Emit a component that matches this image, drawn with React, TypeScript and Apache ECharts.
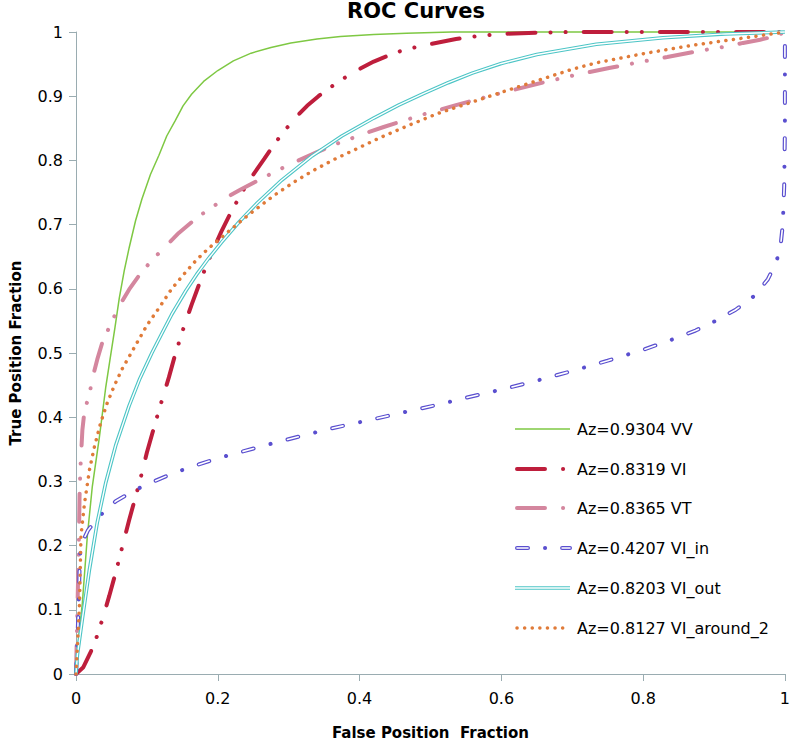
import React, { useEffect, useRef } from "react";
import * as echarts from "echarts";

// ---------- data (FPR, TPR) ----------
const vvPoints: number[][] = [
  [0, 0], [0.004, 0.06], [0.009, 0.111], [0.016, 0.215], [0.023, 0.292], [0.033, 0.369],
  [0.042, 0.447], [0.048, 0.49], [0.055, 0.54], [0.061, 0.585], [0.068, 0.628], [0.075, 0.664],
  [0.084, 0.706], [0.093, 0.74], [0.105, 0.778], [0.117, 0.808], [0.128, 0.838], [0.14, 0.862],
  [0.151, 0.885], [0.163, 0.903], [0.18, 0.923], [0.2, 0.94], [0.222, 0.955], [0.247, 0.967],
  [0.275, 0.976], [0.303, 0.983], [0.34, 0.989], [0.373, 0.993], [0.42, 0.996], [0.466, 0.998],
  [0.53, 1], [0.7, 1], [1, 1],
];
const viPoints: number[][] = [
  [0, 0], [0.01, 0.01], [0.021, 0.035], [0.03, 0.06], [0.038, 0.088], [0.047, 0.122],
  [0.056, 0.158], [0.065, 0.197], [0.075, 0.24], [0.09, 0.3], [0.1, 0.345], [0.117, 0.411],
  [0.131, 0.462], [0.14, 0.498], [0.152, 0.54], [0.163, 0.575], [0.177, 0.617], [0.19, 0.652],
  [0.205, 0.689], [0.219, 0.72], [0.232, 0.746], [0.245, 0.77], [0.266, 0.803], [0.28, 0.826],
  [0.294, 0.846], [0.31, 0.867], [0.326, 0.885], [0.342, 0.9], [0.359, 0.914], [0.378, 0.928],
  [0.396, 0.94], [0.42, 0.954], [0.44, 0.963], [0.457, 0.97], [0.478, 0.976], [0.499, 0.981],
  [0.536, 0.989], [0.57, 0.994], [0.6, 0.997], [0.65, 0.999], [0.7, 1], [1, 1],
];
const vtPoints: number[][] = [
  [0, 0], [0.002, 0.1], [0.004, 0.2], [0.005, 0.277], [0.006, 0.313], [0.007, 0.338],
  [0.009, 0.38], [0.012, 0.41], [0.019, 0.436], [0.023, 0.46], [0.03, 0.49], [0.037, 0.516],
  [0.051, 0.55], [0.061, 0.573], [0.075, 0.599], [0.093, 0.627], [0.112, 0.65], [0.128, 0.668],
  [0.145, 0.687], [0.172, 0.712], [0.193, 0.728], [0.212, 0.742], [0.233, 0.755], [0.266, 0.774],
  [0.289, 0.787], [0.31, 0.798], [0.34, 0.813], [0.368, 0.826], [0.41, 0.843], [0.434, 0.852],
  [0.471, 0.865], [0.494, 0.873], [0.536, 0.886], [0.559, 0.893], [0.6, 0.905], [0.65, 0.919],
  [0.7, 0.932], [0.752, 0.944], [0.79, 0.952], [0.834, 0.961], [0.876, 0.97], [0.92, 0.978],
  [0.941, 0.983], [0.965, 0.988], [0.985, 0.993], [1, 1],
];
const viInPoints: number[][] = [
  [0, 0], [0.002, 0.05], [0.004, 0.12], [0.005, 0.163], [0.006, 0.189], [0.01, 0.208],
  [0.017, 0.224], [0.033, 0.246], [0.056, 0.269], [0.084, 0.287], [0.112, 0.301], [0.14, 0.314],
  [0.172, 0.326], [0.2, 0.336], [0.233, 0.346], [0.266, 0.356], [0.294, 0.364], [0.326, 0.373],
  [0.354, 0.381], [0.387, 0.389], [0.42, 0.397], [0.448, 0.404], [0.48, 0.412], [0.513, 0.42],
  [0.541, 0.428], [0.6, 0.443], [0.65, 0.457], [0.7, 0.472], [0.75, 0.488], [0.8, 0.505],
  [0.846, 0.523], [0.874, 0.535], [0.902, 0.55], [0.93, 0.567], [0.958, 0.59], [0.976, 0.615],
  [0.988, 0.642], [0.994, 0.668], [0.997, 0.7], [0.999, 0.76], [1, 0.85], [1, 1],
];
const viOutPoints: number[][] = [
  [0, 0], [0.002, 0.03], [0.009, 0.086], [0.019, 0.163], [0.03, 0.236], [0.042, 0.298],
  [0.056, 0.356], [0.075, 0.418], [0.09, 0.46], [0.107, 0.5], [0.12, 0.528], [0.135, 0.56],
  [0.155, 0.597], [0.17, 0.622], [0.186, 0.646], [0.205, 0.672], [0.23, 0.704], [0.256, 0.734],
  [0.29, 0.769], [0.333, 0.807], [0.375, 0.838], [0.42, 0.866], [0.455, 0.886], [0.49, 0.904],
  [0.525, 0.921], [0.559, 0.936], [0.6, 0.951], [0.65, 0.965], [0.734, 0.981], [0.828, 0.991],
  [0.916, 0.997], [1, 1],
];
const viAroundPoints: number[][] = [
  [0, 0], [0.005, 0.111], [0.007, 0.215], [0.012, 0.266], [0.019, 0.318], [0.026, 0.354],
  [0.035, 0.392], [0.044, 0.422], [0.054, 0.449], [0.065, 0.475], [0.084, 0.512], [0.1, 0.543],
  [0.117, 0.57], [0.135, 0.6], [0.154, 0.625], [0.17, 0.645], [0.186, 0.662], [0.205, 0.68],
  [0.242, 0.714], [0.28, 0.746], [0.31, 0.768], [0.336, 0.785], [0.365, 0.802], [0.392, 0.816],
  [0.43, 0.836], [0.466, 0.853], [0.51, 0.873], [0.559, 0.891], [0.6, 0.906], [0.65, 0.924],
  [0.7, 0.942], [0.734, 0.952], [0.804, 0.967], [0.874, 0.98], [0.944, 0.991], [1, 1],
];

const seriesNames = [
  "Az=0.9304 VV",
  "Az=0.8319 VI",
  "Az=0.8365 VT",
  "Az=0.4207 VI_in",
  "Az=0.8203 VI_out",
  "Az=0.8127 VI_around_2",
];
const xTickLabels = ["0", "0.2", "0.4", "0.6", "0.8", "1"];
const yTickLabels = ["0", "0.1", "0.2", "0.3", "0.4", "0.5", "0.6", "0.7", "0.8", "0.9", "1"];

const C_VV = "#7ec843";
const C_VI = "#be1e3c";
const C_VT = "#d4869e";
const C_IN = "#5a4fcf";
const C_OUT = "#4cc5c6";
const C_AR = "#e07b39";
const AXIS = "#9aacb1";
const FONT = "DejaVu Sans";

export default function App() {
  const ref = useRef<HTMLDivElement>(null);
  useEffect(() => {
    if (!ref.current) return;
    const chart = echarts.init(ref.current, undefined, { renderer: "svg" });

    const base = {
      type: "line",
      showSymbol: false,
      symbol: "none",
      smooth: false,
      clip: false,
      silent: true,
    };

    const rows = [429, 469, 508, 548, 588, 628];
    const lg: any[] = [];
    const ln = (y: number, style: any, x1 = 515, x2 = 570) => ({
      type: "line",
      silent: true,
      shape: { x1, y1: y, x2, y2: y },
      style,
    });
    lg.push(ln(rows[0], { stroke: C_VV, lineWidth: 1.5 }));
    lg.push(ln(rows[1], { stroke: C_VI, lineWidth: 4, lineDash: [28, 18, 0.1, 40], lineCap: "round" }, 517, 570));
    lg.push(ln(rows[2], { stroke: C_VT, lineWidth: 4, lineDash: [28, 18, 0.1, 40], lineCap: "round" }, 517, 570));
    lg.push(ln(rows[3], { stroke: C_IN, lineWidth: 4, lineDash: [11, 17, 0.1, 17], lineCap: "round" }, 517, 570));
    lg.push(ln(rows[3], { stroke: "#fff", lineWidth: 1.6, lineDash: [11, 34.1], lineCap: "round" }, 517, 570));
    lg.push(ln(rows[4], { stroke: C_OUT, lineWidth: 3.6 }));
    lg.push(ln(rows[4], { stroke: "#fff", lineWidth: 1.4 }));
    lg.push(ln(rows[5], { stroke: C_AR, lineWidth: 3.5, lineDash: [0.1, 7.5], lineCap: "round" }, 517, 568));
    seriesNames.forEach((n, i) => {
      lg.push({
        type: "text",
        silent: true,
        x: 577,
        y: rows[i],
        style: { text: n, fill: "#000", font: `16px "${FONT}"`, textVerticalAlign: "middle", textAlign: "left" },
      });
    });

    chart.setOption({
      animation: false,
      backgroundColor: "#fff",
      title: {
        text: "ROC Curves",
        left: 347,
        top: 0,
        padding: 0,
        textStyle: { fontFamily: FONT, fontWeight: "bold", fontSize: 21, color: "#000" },
      },
      grid: { left: 75, right: 3, top: 32, bottom: 66, containLabel: false },
      xAxis: {
        type: "value",
        min: 0,
        max: 1,
        interval: 0.2,
        name: "False Position  Fraction",
        nameLocation: "middle",
        nameGap: 51,
        nameTextStyle: { fontFamily: FONT, fontWeight: "bold", fontSize: 15, color: "#000" },
        axisLine: { show: true, lineStyle: { color: AXIS, width: 1 } },
        axisTick: { show: true, inside: false, length: 7, lineStyle: { color: AXIS } },
        axisLabel: {
          margin: 16,
          fontFamily: FONT,
          fontSize: 16,
          color: "#000",
          formatter: (v: number) => xTickLabels[Math.round(v / 0.2)] ?? "",
        },
        splitLine: { show: false },
      },
      yAxis: {
        type: "value",
        min: 0,
        max: 1,
        interval: 0.1,
        name: "True Position Fraction",
        nameLocation: "middle",
        nameRotate: 90,
        nameGap: 53,
        nameTextStyle: { fontFamily: FONT, fontWeight: "bold", fontSize: 15, color: "#000" },
        axisLine: { show: true, lineStyle: { color: AXIS, width: 1 } },
        axisTick: { show: true, inside: false, length: 7, lineStyle: { color: AXIS } },
        axisLabel: {
          margin: 13,
          fontFamily: FONT,
          fontSize: 16,
          color: "#000",
          formatter: (v: number) => yTickLabels[Math.round(v / 0.1)] ?? "",
        },
        splitLine: { show: false },
      },
      series: [
        { ...base, name: seriesNames[0], data: vvPoints, lineStyle: { color: C_VV, width: 1.5 } },
        { ...base, name: seriesNames[1], data: viPoints, lineStyle: { color: C_VI, width: 4, type: [28, 15, 0.1, 15, 0.1, 18], cap: "round" } },
        { ...base, name: seriesNames[2], data: vtPoints, lineStyle: { color: C_VT, width: 4, type: [28, 15, 0.1, 15, 0.1, 18], cap: "round" } },
        { ...base, name: seriesNames[3], data: viInPoints, lineStyle: { color: C_IN, width: 4, type: [11, 17.5, 0.1, 17.5], cap: "round" } },
        { ...base, name: seriesNames[3] + " inner", data: viInPoints, lineStyle: { color: "#fff", width: 1.6, type: [11, 35.1], cap: "round" } },
        { ...base, name: seriesNames[4], data: viOutPoints, lineStyle: { color: C_OUT, width: 3.6 } },
        { ...base, name: seriesNames[4] + " inner", data: viOutPoints, lineStyle: { color: "#fff", width: 1.4 } },
        { ...base, name: seriesNames[5], data: viAroundPoints, lineStyle: { color: C_AR, width: 3.5, type: [0.1, 7.5], cap: "round" } },
      ],
      graphic: lg,
    });
    return () => chart.dispose();
  }, []);
  return (
    <div
      ref={ref}
      style={{ position: "fixed", left: 0, top: 0, width: 793, height: 745, background: "#fff" }}
    />
  );
}
